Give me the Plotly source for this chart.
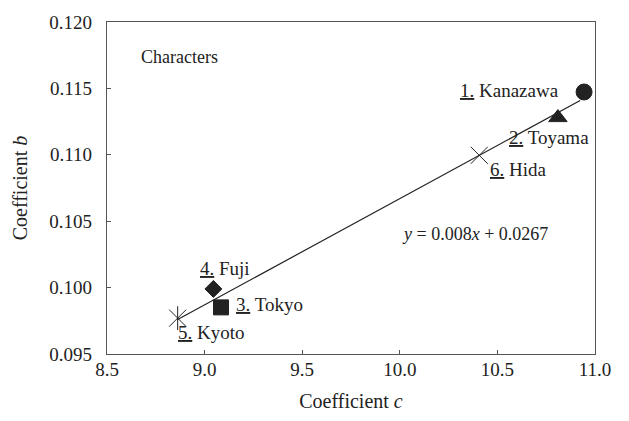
import plotly.graph_objects as go
import numpy as np

names = ["Kanazawa", "Toyama", "Tokyo", "Fuji", "Kyoto", "Hida"]
nums = ["1.", "2.", "3.", "4.", "5.", "6."]
coef_c = [10.944, 10.81, 9.084, 9.045, 8.862, 10.407]
coef_b = [0.11473, 0.1128, 0.09851, 0.0999, 0.0977, 0.10996]
symbols = ["circle", "triangle-up", "square", "diamond", "x-thin-open", "x-thin-open"]
sizes = [16, 16, 15, 13, 17, 17]
slope, intercept = 0.008, 0.0267

# label positions (data coords) and anchors
lab_x = [10.826, 10.549, 9.151, 8.966, 8.853, 10.452]
lab_y = [0.11481, 0.11132, 0.09871, 0.10145, 0.09663, 0.10887]
lab_anchor = ["right", "left", "left", "left", "left", "left"]

font = "'Liberation Serif', 'Times New Roman', Times, serif"
ink = "#222222"

fig = go.Figure()
xs = np.array([min(coef_c), max(coef_c) - 0.02])
fig.add_trace(go.Scatter(x=xs, y=slope * xs + intercept, mode="lines",
                         line=dict(color=ink, width=1.2), hoverinfo="skip"))
fig.add_trace(go.Scatter(x=coef_c, y=coef_b, mode="markers",
                         marker=dict(symbol=symbols, size=sizes, color=ink, opacity=1,
                                     line=dict(color=ink, width=1))))
# vertical stroke for Kyoto's asterisk
fig.add_trace(go.Scatter(x=[coef_c[4]], y=[coef_b[4]], mode="markers",
                         marker=dict(symbol="line-ns-open", size=17, color=ink, opacity=1,
                                     line=dict(color=ink, width=1))))

for n, nm, x, y, a in zip(nums, names, lab_x, lab_y, lab_anchor):
    fig.add_annotation(x=x, y=y, xref="x", yref="y", text=f"<u>{n}</u> {nm}",
                       showarrow=False, xanchor=a, yanchor="middle",
                       font=dict(family=font, size=19, color=ink))

fig.add_annotation(x=8.664, y=0.1174, xref="x", yref="y", text="Characters",
                   showarrow=False, xanchor="left", yanchor="middle",
                   font=dict(family=font, size=18, color=ink))
fig.add_annotation(x=10.001, y=0.10405, xref="x", yref="y",
                   text=f"<i>y</i> = {slope}<i>x</i> + {intercept}",
                   showarrow=False, xanchor="left", yanchor="middle",
                   font=dict(family=font, size=18, color=ink))

axis_common = dict(showline=True, linecolor="#555555", linewidth=1.2, mirror=True,
                   ticks="inside", ticklen=4, tickcolor="#555555", showgrid=False,
                   zeroline=False, tickfont=dict(family=font, size=19, color=ink),
                   title_font=dict(family=font, size=20, color=ink))
fig.update_xaxes(range=[8.5, 11.0], tickvals=[8.5, 9.0, 9.5, 10.0, 10.5, 11.0],
                 ticktext=["8.5", "9.0", "9.5", "10.0", "10.5", "11.0"],
                 ticklabelstandoff=-2,
                 title_text="Coefficient <i>c</i>", title_standoff=15, **axis_common)
fig.update_yaxes(range=[0.095, 0.120], tickvals=[0.095, 0.100, 0.105, 0.110, 0.115, 0.120],
                 tickformat=".3f", ticklabelstandoff=10,
                 title_text="Coefficient <i>b</i>", title_standoff=16,
                 **axis_common)
fig.update_layout(width=629, height=421, margin=dict(l=107, r=34, t=18, b=66),
                  font=dict(family=font, color=ink),
                  plot_bgcolor="white", paper_bgcolor="white", showlegend=False)
fig.write_html("out.html")
